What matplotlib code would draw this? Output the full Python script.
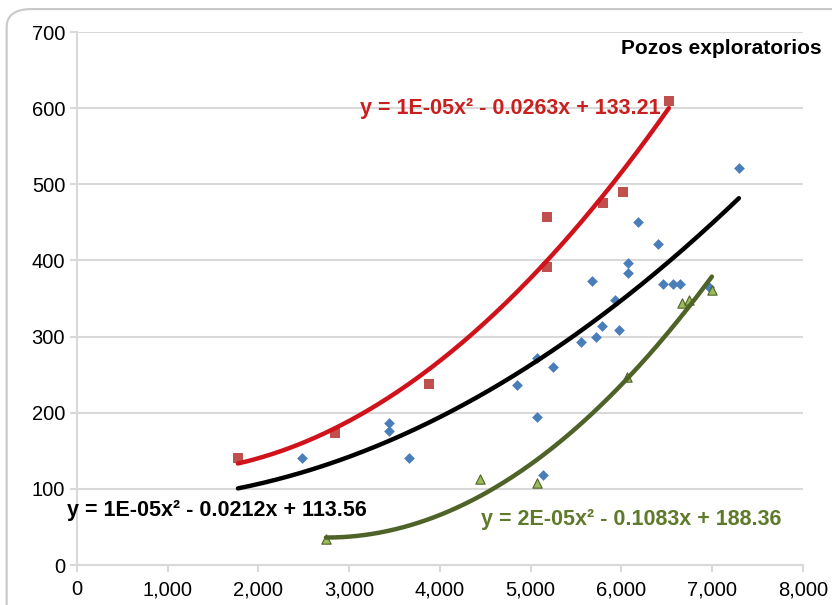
import numpy as np
import matplotlib.pyplot as plt
from matplotlib.patches import FancyBboxPatch

plt.rcParams['font.family'] = ['Liberation Sans', 'DejaVu Sans']

# pozos exploratorios - red squares
red_x = [1774, 2843, 3879, 5179, 5179, 5796, 6017, 6523]
red_y = [140, 173, 238, 391, 457, 475, 490, 609]

# blue diamonds
blue_x = [2479, 3438, 3438, 3658, 4848, 5069, 5069, 5135, 5245, 5554, 5675, 5719,
          5785, 5928, 5972, 6072, 6072, 6182, 6402, 6457, 6568, 6645, 6964, 7295]
blue_y = [140, 186, 176, 140, 237, 272, 194, 118, 260, 293, 373, 299,
          314, 348, 309, 397, 384, 450, 422, 369, 369, 369, 365, 521]

# green triangles
green_x = [2744, 4441, 5069, 6061, 6667, 6744, 6997]
green_y = [34, 113, 108, 247, 344, 348, 361]

x_ticks = [0, 1000, 2000, 3000, 4000, 5000, 6000, 7000, 8000]
y_ticks = [0, 100, 200, 300, 400, 500, 600, 700]

eq_red = 'y = 1E-05x² - 0.0263x + 133.21'
eq_all = 'y = 1E-05x² - 0.0212x + 113.56'
eq_green = 'y = 2E-05x² - 0.1083x + 188.36'


def trend(xs, ys):
    c = np.polyfit(xs, ys, 2)
    xx = np.linspace(min(xs), max(xs), 200)
    return xx, np.polyval(c, xx)


fig = plt.figure(figsize=(8.32, 6.05), dpi=100)
# rounded chart frame, cut off on the right like the source
fig.patches.append(FancyBboxPatch((0.008, -0.05), 1.2, 1.035,
                                  boxstyle='round,pad=0,rounding_size=0.03',
                                  transform=fig.transFigure, fc='none',
                                  ec='#c8c8c8', lw=1.5))
ax = fig.add_axes([0.0925, 0.066, 0.8725, 0.881])

ax.scatter(blue_x, blue_y, marker='D', s=30, color='#4a7ebb', zorder=3, lw=0)
ax.scatter(red_x, red_y, marker='s', s=55, color='#c0504d', zorder=3, lw=0)
ax.scatter(green_x, green_y, marker='^', s=45, color='#9bbb59',
           edgecolor='#4f6228', lw=0.8, zorder=3)

# black trend over every point
all_x = red_x + blue_x + green_x
all_y = red_y + blue_y + green_y
xx, yy = trend(red_x, red_y)
ax.plot(xx, yy, color='#d0121b', lw=3.2, zorder=4, solid_capstyle='round')
xx, yy = trend(all_x, all_y)
ax.plot(xx, yy, color='black', lw=3.2, zorder=4, solid_capstyle='round')
xx, yy = trend(green_x, green_y)
ax.plot(xx, yy, color='#4f6228', lw=3.2, zorder=4, solid_capstyle='round')

ax.text(4771, 600, eq_red, color='#c8201e', fontsize=15.5, fontweight='bold',
        ha='center', va='center', zorder=5)
ax.text(1543, 72, eq_all, color='black', fontsize=15.5, fontweight='bold',
        ha='center', va='center', zorder=5)
ax.text(6105, 60, eq_green, color='#5f7a2a', fontsize=15.5, fontweight='bold',
        ha='center', va='center', zorder=5)
ax.text(6000, 679, 'Pozos exploratorios', color='black', fontsize=15,
        fontweight='bold', ha='left', va='center', clip_on=False)

ax.set_xlim(0, 8000)
ax.set_ylim(0, 700)
ax.set_xticks(x_ticks)
ax.set_xticklabels(['{:,}'.format(v) for v in x_ticks])
ax.set_yticks(y_ticks)
ax.grid(axis='y', color='#d9d9d9', lw=1.5)
ax.set_axisbelow(True)
for s in ['top', 'right']:
    ax.spines[s].set_visible(False)
ax.spines['left'].set_color('#d9d9d9')
ax.spines['bottom'].set_color('#d9d9d9')
ax.spines['left'].set_linewidth(1.5)
ax.spines['bottom'].set_linewidth(1.5)
ax.tick_params(axis='both', colors='#d9d9d9', labelcolor='black',
               labelsize=14.5, length=5, width=1.5)
ax.tick_params(axis='x', pad=6)

fig.savefig('out.png', dpi=100)
